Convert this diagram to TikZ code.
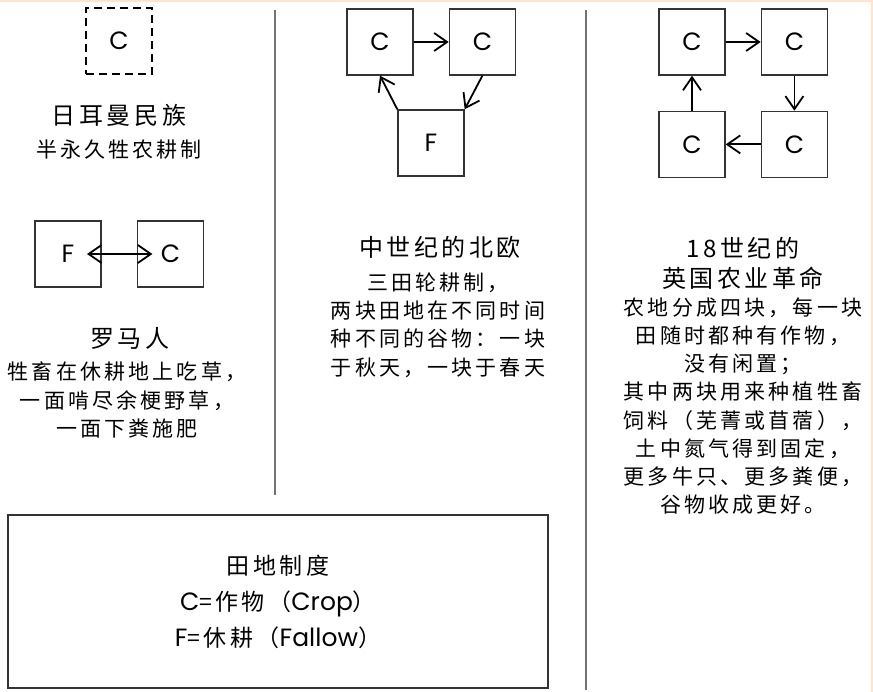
\documentclass[tikz,border=0pt]{standalone}
\usepackage{fontspec}
\setmainfont[LetterSpace=15]{Noto Sans CJK SC}
\newfontfamily\latin{Poppins}
\usetikzlibrary{arrows.meta, positioning}

\begin{document}
\begin{tikzpicture}[x=1pt, y=-1pt,
  field/.style={rectangle, draw=black!80, line width=1.4pt, minimum size=66pt,
                inner sep=0pt, font=\latin\fontsize{25}{28}\selectfont},
  arr/.style={-{Straight Barb[length=13pt,width=18pt,line width=1.8pt]}, line width=1.8pt},
  arrboth/.style={{Straight Barb[length=13pt,width=18pt,line width=1.8pt]}-{Straight Barb[length=13pt,width=18pt,line width=1.8pt]}, line width=1.8pt},
  ttl/.style={align=center, font=\fontsize{24}{30}\selectfont},
  txt/.style={align=center, font=\fontsize{21}{28.2}\selectfont},
  sep/.style={draw=black!55, line width=1.8pt},
]
\useasboundingbox (0,0) rectangle (873,692);
\draw[draw=orange!20, line width=2pt] (0,1) -- (872,1) -- (872,692);

% left column
\node[field, draw=black, line width=2.8pt, dash pattern=on 8pt off 5pt] (gc) at (119,41) {C};
\node[ttl] (gtitle) at (119,115) {日耳曼民族};
\node[txt] (gtext)  at (119,150) {半永久牲农耕制};

\node[field] (rf) at (68,254) {F};
\node[field, right=35pt of rf] (rc) {C};
\draw[arrboth] ([xshift=19pt]rf.center) -- ([xshift=-18pt]rc.center);
\node[ttl] (rtitle) at (130,338) {罗马人};
\node[txt] (rtext)  at (127,400) {牲畜在休耕地上吃草，\\一面啃尽余梗野草，\\一面下粪施肥};

\draw[sep] (275,10) -- (275,495);

% middle column
\node[field] (mc1) at (380,42) {C};
\node[field, right=35pt of mc1] (mc2) {C};
\node[field] (mf) at (431,143) {F};
\draw[arr] (mc1) -- (mc2);
\draw[arr] (mc2.south) -- (mf.north east);
\draw[arr] (mf.north west) -- (mc1.south);
\node[ttl] (mtitle) at (440,247) {中世纪的北欧};
\node[txt] (mtext)  at (438,325) {三田轮耕制，\\两块田地在不同时间\\种不同的谷物：一块\\于秋天，一块于春天};

\draw[sep] (586,10) -- (586,690);

% right column
\node[field] (ec1) at (692,42) {C};
\node[field, right=35pt of ec1] (ec2) {C};
\node[field, below=35pt of ec2] (ec3) {C};
\node[field, below=35pt of ec1] (ec4) {C};
\draw[arr] (ec1) -- (ec2);
\draw[arr] (ec2) -- (ec3);
\draw[arr] (ec3) -- (ec4);
\draw[arr] (ec4) -- (ec1);
\node[ttl] (etitle) at (743,263) {18世纪的\\英国农业革命};
\node[txt] (etext)  at (743,406) {农地分成四块，每一块\\田随时都种有作物，\\没有闲置；\\其中两块用来种植牲畜\\饲料（芜菁或苜蓿），\\土中氮气得到固定，\\更多牛只、更多粪便，\\谷物收成更好。};

% legend
\node[draw=black!80, line width=1.5pt, minimum width=540pt, minimum height=173pt,
      align=center, font=\fontsize{23}{36}\selectfont] (legend) at (278,601.5)
      {田地制度\\{\latin\fontsize{25}{36}\selectfont C}=作物（{\latin\fontsize{25}{36}\selectfont Crop}）\\{\latin\fontsize{25}{36}\selectfont F}=休耕（{\latin\fontsize{25}{36}\selectfont Fallow}）};
\end{tikzpicture}
\end{document}
